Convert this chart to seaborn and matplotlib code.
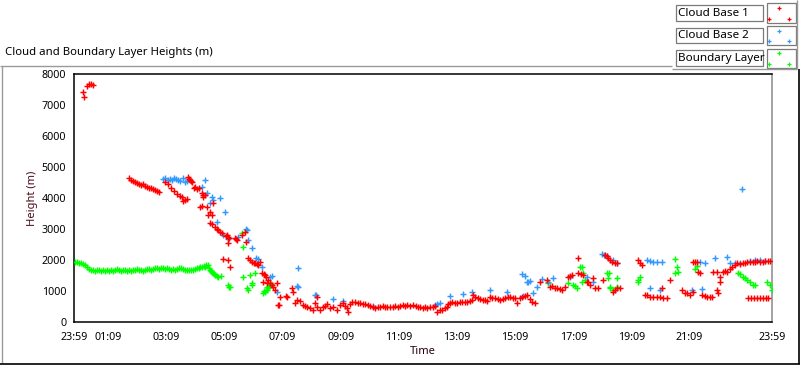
import matplotlib
matplotlib.use("Agg")
import matplotlib.pyplot as plt
from matplotlib.lines import Line2D
from matplotlib.patches import Rectangle
import seaborn as sns
import numpy as np
import pandas as pd

sns.set_style("white")
plt.rcParams['font.family'] = ['Noto Sans', 'DejaVu Sans']

# ---- data: minutes since 23:59, height in metres ----
cb1_min = [19, 21, 27, 31, 35, 39,
    113, 118, 122, 126, 130, 134, 138, 142, 146, 151, 155, 159, 163, 167, 171, 175,
    188, 194, 200, 206, 212, 219, 223, 225, 229, 233,
    235, 237, 239, 241, 243, 248, 250, 254, 258, 264, 266, 270, 266, 287, 260, 264, 274,
    281, 276, 285, 281, 285, 291, 295, 297, 301, 305, 314, 316, 318, 320, 318, 332, 336,
    334, 347, 353, 355, 307, 318, 322, 359, 363, 367, 371, 373, 378, 380, 384, 388, 392,
    394, 396, 400, 404, 408, 411, 415, 419, 390, 398, 425, 421, 423, 437, 439, 450, 452,
    456, 460, 466, 472, 477, 481, 487, 493, 497, 501, 501, 507, 514, 518, 522, 528, 534,
    543, 549, 555, 559, 563, 565, 569, 573, 580, 586, 590, 596, 600, 606, 611, 617, 621,
    627, 631, 637, 642, 646, 652, 658, 662, 668, 673, 679, 683, 687, 693, 699, 706, 710,
    714, 720, 724, 728, 734, 741, 745, 749, 755, 759, 765, 770, 772, 776, 780, 786, 790,
    796, 800, 807, 811, 817, 821, 823, 827, 833, 838, 844, 848, 852, 858, 862, 869, 875,
    879, 885, 889, 895, 899, 906, 910, 914, 920, 924, 930, 934, 941, 945, 951,
    961, 976, 982, 986, 992, 996, 1003, 1007, 1013, 1019, 1023, 1027, 1040, 1040, 1046,
    1050, 1058, 1064, 1071, 1060, 1075, 1081, 1091, 1095, 1099, 1101, 1106, 1110, 1116,
    1120, 1112, 1116, 1120, 1126, 1163, 1168, 1172, 1178, 1182, 1188, 1194, 1203, 1209,
    1215, 1223, 1213, 1230, 1254, 1260, 1265, 1271, 1277, 1281, 1285, 1287, 1291, 1277,
    1295, 1302, 1306, 1312, 1316, 1318, 1326, 1326, 1328, 1333, 1333, 1339, 1343, 1347,
    1353, 1357, 1364, 1368, 1374, 1380, 1384, 1388, 1395, 1401, 1405, 1409, 1415, 1422,
    1426, 1432, 1436, 1390, 1397, 1403, 1409, 1415, 1422, 1428, 1432]
cb1_h = [7420, 7260, 7610, 7680, 7690, 7650,
    4645, 4580, 4550, 4515, 4485, 4450, 4420, 4450, 4390, 4355, 4320, 4320, 4290, 4260, 4225, 4190,
    4515, 4450, 4320, 4225, 4130, 4065, 4030, 3900, 3935, 3970,
    4680, 4610, 4580, 4550, 4515, 4320, 4355, 4290, 4320, 4160, 4100, 4100, 4030, 3840, 3710, 3740, 3710,
    3550, 3450, 3450, 3195, 3160, 3065, 3000, 2970, 2900, 2870, 2775, 2810, 2740, 2710, 2550, 2710, 2645,
    2680, 2810, 2900, 2580, 2030, 2000, 1775, 2065, 2000, 1935, 1900, 1900, 1870, 1840, 1935, 1580, 1550,
    1515, 1450, 1355, 1260, 1195, 1130, 1030, 1260, 1290, 1260, 805, 550, 550, 840, 805, 1095, 970,
    615, 710, 680, 550, 515, 485, 450, 385, 615, 805, 485, 385, 485, 515, 580, 450, 485,
    385, 550, 615, 515, 450, 325, 580, 645, 645, 615, 615, 580, 580, 550, 515, 485, 450,
    485, 485, 515, 485, 485, 485, 485, 515, 485, 515, 550, 515, 550, 515, 550, 515, 485,
    485, 450, 485, 450, 485, 485, 515, 325, 385, 385, 450, 485, 580, 615, 645, 615, 615,
    645, 645, 645, 645, 680, 710, 870, 805, 775, 740, 710, 710, 680, 805, 775, 775, 740,
    710, 740, 775, 805, 805, 775, 775, 615, 775, 805, 840, 870, 740, 645, 615,
    1290, 1355, 1130, 1160, 1095, 1095, 1065, 1030, 1130, 1450, 1485, 1515, 2065, 1580, 1550,
    1515, 1290, 1195, 1420, 1290, 1095, 1095, 1355, 2160, 2130, 2065, 2000, 1935, 1900,
    1900, 970, 1030, 1095, 1095, 2000, 1900, 1840, 870, 870, 805, 805, 805, 805,
    775, 775, 1095, 1355, 1030, 935, 935, 870, 1935, 1935, 1935, 1615, 1580, 970,
    870, 840, 805, 805, 805, 1615, 1615, 1030, 935, 1450, 1290, 1615, 1645, 1615,
    1710, 1775, 1840, 1900, 1870, 1900, 1900, 1935, 1935, 1935, 1935, 1970, 1935, 1935,
    1970, 1970, 1970, 775, 775, 775, 775, 775, 775, 775, 775]

cb2_min = [184, 188, 194, 198, 202, 206, 210, 215, 219, 225, 229, 233,
    264, 270, 274, 285, 287, 281, 301, 312, 295, 307, 318, 338, 355, 357, 359, 367, 375,
    380, 388, 404, 408, 462, 462, 497, 499, 419, 460, 534, 555, 617,
    745, 749, 755, 776, 802, 821, 858, 893, 926, 934, 947, 955, 978,
    924, 930, 936, 941, 965, 988, 1023, 1058, 1071, 1089, 1093, 1099, 1112, 1120,
    1182, 1188, 1194, 1203, 1213, 1188, 1209, 1275, 1295, 1291, 1302, 1322, 1347, 1353,
    1364, 1374, 1395, 1405, 1415, 1426, 1378]
cb2_h = [4610, 4645, 4580, 4610, 4580, 4645, 4610, 4580, 4550, 4645, 4515, 4550,
    4355, 4580, 4160, 4030, 3935, 3840, 4000, 3550, 3225, 2805, 2675, 2740, 3000, 2970, 2645, 2385, 2065,
    2030, 1775, 1450, 1485, 1740, 1130, 870, 870, 970, 1160, 740, 680, 515,
    550, 580, 615, 840, 900, 970, 1030, 970, 840, 1290, 935, 1130, 1290,
    1550, 1485, 1290, 1320, 1385, 1420, 1450, 1450, 1290, 2195, 2160, 2130, 2000, 1900,
    2000, 1970, 1935, 1935, 1935, 1095, 1030, 1030, 1065, 1935, 1900, 2065, 2095, 1900,
    1900, 1900, 1970, 2000, 2000, 1970, 4290]

bl_min = [2, 6, 10, 14, 19, 23, 27, 31, 35, 39, 43, 47, 52, 56, 60, 64, 68, 72, 76, 80,
    85, 89, 93, 97, 101, 105, 109, 113, 118, 122, 126, 130, 134, 138, 142, 146, 151, 155,
    159, 163, 167, 171, 175, 179, 184, 188, 192, 196, 200, 204, 208, 212, 217, 221, 225,
    229, 233, 237, 241, 246, 250, 254, 258, 260, 264, 268, 270, 272, 276, 278, 281, 283,
    285, 287, 289, 291, 295, 297, 303,
    318, 320, 322, 347, 349, 349, 357, 359, 363, 367, 367, 373, 390, 392, 394, 398, 398,
    400, 402, 404, 406,
    978, 1019, 1029, 1034, 1038, 1044, 1048, 1050, 1048, 1054, 1099, 1104, 1101, 1106,
    1106, 1112, 1120, 1120, 1163, 1163, 1168, 1240, 1244, 1240, 1246, 1281, 1285, 1370,
    1374, 1380, 1384, 1388, 1395, 1401, 1405, 1430, 1436, 1439]
bl_h = [1935, 1935, 1900, 1900, 1870, 1840, 1775, 1710, 1680, 1680, 1645, 1680, 1680,
    1645, 1680, 1645, 1680, 1645, 1680, 1645, 1680, 1710, 1680, 1645, 1680, 1680, 1645,
    1680, 1645, 1680, 1680, 1710, 1680, 1680, 1645, 1680, 1710, 1710, 1680, 1710, 1740,
    1740, 1710, 1740, 1740, 1710, 1740, 1710, 1680, 1710, 1680, 1710, 1740, 1740, 1710,
    1680, 1680, 1680, 1680, 1680, 1710, 1740, 1740, 1775, 1775, 1805, 1775, 1840, 1840,
    1740, 1680, 1645, 1615, 1580, 1550, 1515, 1485, 1450, 1485,
    1195, 1130, 1130, 2870, 2420, 1450, 1095, 1030, 1515, 1195, 1260, 1580, 935, 1000,
    970, 1130, 1030, 1095, 1160, 1195, 1225,
    1260, 1260, 1195, 1160, 1095, 1775, 1775, 1580, 1290, 1355, 1580, 1580, 1420, 1130,
    1095, 1030, 1420, 1130, 1355, 1290, 1450, 2030, 1775, 1580, 1615, 1710, 1805, 1580,
    1550, 1450, 1420, 1355, 1290, 1195, 1195, 1290, 1195, 1030]

x_tick_labels = ["23:59", "01:09", "03:09", "05:09", "07:09", "09:09", "11:09",
                 "13:09", "15:09", "17:09", "19:09", "21:09", "23:59"]
x_tick_pos = [0, 70, 190, 310, 430, 550, 670, 790, 910, 1030, 1150, 1270, 1440]
y_ticks = [0, 1000, 2000, 3000, 4000, 5000, 6000, 7000, 8000]

series_names = ["Cloud Base 1", "Cloud Base 2", "Boundary Layer"]
series_colors = ["#ff0000", "#3399ff", "#00ff00"]

# ---- figure ----
W, H = 800, 365
fig = plt.figure(figsize=(W / 100, H / 100), dpi=100)
fig.patch.set_facecolor("white")

def fx(px):
    return px / W

def fy(py):
    return 1 - py / H

ax = fig.add_axes([fx(74), fy(322), fx(772) - fx(74), fy(74) - fy(322)])

frames = [
    pd.DataFrame({"t": cb1_min, "h": cb1_h, "s": series_names[0]}),
    pd.DataFrame({"t": cb2_min, "h": cb2_h, "s": series_names[1]}),
    pd.DataFrame({"t": bl_min, "h": bl_h, "s": series_names[2]}),
]
order = [2, 1, 0]
for i in order:
    sns.scatterplot(data=frames[i], x="t", y="h", marker="+", color=series_colors[i],
                    s=13, linewidth=1.05, ax=ax, legend=False, zorder=3 + (2 - i))

ax.set_xlim(0, 1440)
ax.set_ylim(0, 8000)
ax.set_xticks(x_tick_pos)
ax.set_xticklabels(x_tick_labels)
minor = [70 + k * 40 / 3 for k in range(-5, 103)]
ax.set_xticks([m for m in minor if 0 < m < 1440 and all(abs(m - p) > 1 for p in x_tick_pos)], minor=True)
ax.set_yticks(y_ticks)
ax.set_yticklabels([str(v) for v in y_ticks])
ax.tick_params(axis="both", which="major", direction="out", length=4, width=0.8,
               colors="black", labelsize=7.7, pad=1.5)
ax.tick_params(axis="x", which="minor", direction="out", length=2.5, width=0.8, colors="black")
ax.tick_params(axis="x", which="major", pad=3)
ax.set_xlabel("Time", fontsize=8, color="#2a0010", labelpad=2)
ax.set_ylabel("Height (m)", fontsize=8, color="#4a0a18", labelpad=3)
ax.grid(False)
for s in ["top", "left", "bottom"]:
    ax.spines[s].set_color("black")
    ax.spines[s].set_linewidth(1.1)
    ax.spines[s].set_visible(True)
ax.spines["right"].set_color("#8a8a8a")
ax.spines["right"].set_linewidth(1.1)
ax.spines["right"].set_visible(True)

# ---- title ----
fig.text(fx(5), fy(53), "Cloud and Boundary Layer Heights (m)", fontsize=8.2,
         ha="left", va="center", color="black")

# ---- outer frame ----
def fline(x0, y0, x1, y1, color, lw):
    fig.add_artist(Line2D([fx(x0), fx(x1)], [fy(y0), fy(y1)], color=color, lw=lw,
                          transform=fig.transFigure, solid_capstyle="butt"))

fline(0, 66, 672, 66, "#9a9a9a", 1.0)
fline(1.5, 66, 1.5, 363, "#9a9a9a", 1.0)
fline(0, 363.5, 800, 363.5, "black", 1.2)
fline(799, 69, 799, 364, "black", 1.2)
fline(672, 69, 797, 69, "#9a9a9a", 1.0)
fline(797, 0, 797, 69, "#9a9a9a", 1.0)

# ---- legend ----
rows = [(5, 21), (28, 43), (50, 66)]
for (y0, y1), name, col in zip(rows, series_names, series_colors):
    fig.add_artist(Rectangle((fx(676), fy(y1)), fx(763) - fx(676), fy(y0) - fy(y1),
                             transform=fig.transFigure, facecolor="white",
                             edgecolor="#7a7a7a", lw=0.9))
    fig.text(fx(678.5), fy((y0 + y1) / 2 + 0.5), name, fontsize=8.4, ha="left",
             va="center", color="black")
    sy0, sy1 = y0 - 1.5, y1 + 1.5
    fig.add_artist(Rectangle((fx(767), fy(sy1)), fx(796) - fx(767), fy(sy0) - fy(sy1),
                             transform=fig.transFigure, facecolor="white",
                             edgecolor="#7a7a7a", lw=0.9))
    mx = [fx(779), fx(769), fx(789)]
    my = [fy(sy0 + 4), fy(sy1 - 4), fy(sy1 - 4)]
    fig.add_artist(Line2D(mx, my, linestyle="none", marker="+", markersize=3.2,
                          markeredgewidth=0.9, color=col, transform=fig.transFigure))

fig.savefig("out.png", dpi=100)
